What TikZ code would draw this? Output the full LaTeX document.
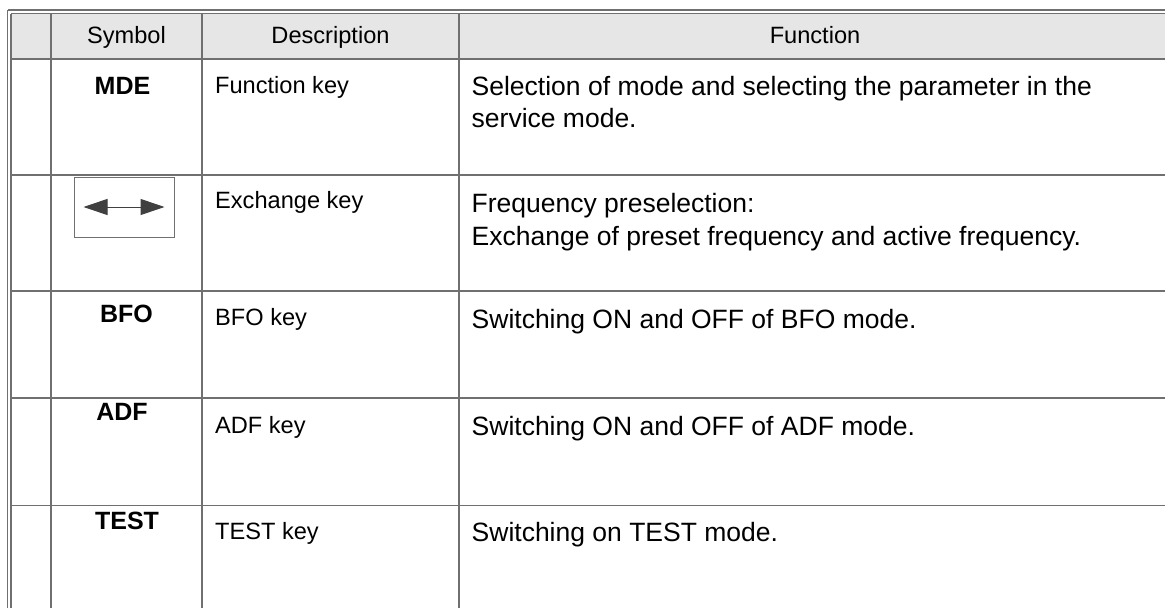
\documentclass[tikz,border=0pt]{standalone}
\usepackage{fontspec}
\setmainfont{Liberation Sans}
\usetikzlibrary{arrows.meta}
\definecolor{gridc}{HTML}{707070}
\definecolor{headfill}{HTML}{E6E6E6}
\definecolor{arrowc}{HTML}{404040}
\tikzset{
  gridline/.style={draw=gridc, line width=1.2pt},
  headtxt/.style={inner sep=0pt, anchor=base, font=\fontsize{23.6}{28}\selectfont},
  symtxt/.style={inner sep=0pt, anchor=base, font=\fontsize{25}{30}\selectfont\bfseries},
  desctxt/.style={inner sep=0pt, anchor=base west, font=\fontsize{23.6}{28}\selectfont},
  functxt/.style={inner sep=0pt, anchor=base west, font=\fontsize{26.5}{32}\selectfont},
}
\begin{document}
\begin{tikzpicture}[x=1pt,y=-1pt]
\useasboundingbox (0,0) rectangle (1165,608);
% header fill
\fill[headfill] (11,13) rectangle (1165,59);
% double borders
\draw[gridline] (8,10) -- (1165,10);
\draw[gridline] (11,13.5) -- (1165,13.5);
\draw[gridline] (7.5,10) -- (7.5,608);
\draw[gridline] (11,13.5) -- (11,608);
% column lines
\foreach \xx in {51,202,459} \draw[gridline] (\xx,13.5) -- (\xx,608);
% row lines
\foreach \yy in {59,175,291,398,505.5} \draw[gridline] (11,\yy) -- (1165,\yy);
% header
\node[headtxt] (hsym) at (126.5,43) {Symbol};
\node[headtxt] (hdesc) at (330.5,43) {Description};
\node[headtxt] (hfunc) at (815,43) {Function};
% row 1
\node[symtxt] (s1) at (122.5,94) {MDE};
\node[desctxt] (d1) at (215,93) {Function key};
\node[functxt] (f1a) at (471.5,95) {Selection of mode and selecting the parameter in the};
\node[functxt] (f1b) at (471.5,127) {service mode.};
% row 2
\node[draw=gridc, line width=1pt, minimum width=100pt, minimum height=60pt, inner sep=0pt] (s2) at (124,207) {};
\draw[arrowc, line width=1pt, {Triangle[length=24pt,width=16pt]}-{Triangle[length=24pt,width=16pt]}] ([xshift=10pt]s2.west) -- ([xshift=-10pt]s2.east);
\node[desctxt] (d2) at (215,208) {Exchange key};
\node[functxt] (f2a) at (471.5,212) {Frequency preselection:};
\node[functxt] (f2b) at (471.5,245) {Exchange of preset frequency and active frequency.};
% row 3
\node[symtxt] (s3) at (126.5,322) {BFO};
\node[desctxt] (d3) at (215,325) {BFO key};
\node[functxt] (f3) at (471.5,328) {Switching ON and OFF of BFO mode.};
% row 4
\node[symtxt] (s4) at (122,420) {ADF};
\node[desctxt] (d4) at (215,433) {ADF key};
\node[functxt] (f4) at (471.5,435.5) {Switching ON and OFF of ADF mode.};
% row 5
\node[symtxt] (s5) at (127,529) {TEST};
\node[desctxt] (d5) at (215,539) {TEST key};
\node[functxt] (f5) at (471.5,541.5) {Switching on TEST mode.};
\end{tikzpicture}
\end{document}
